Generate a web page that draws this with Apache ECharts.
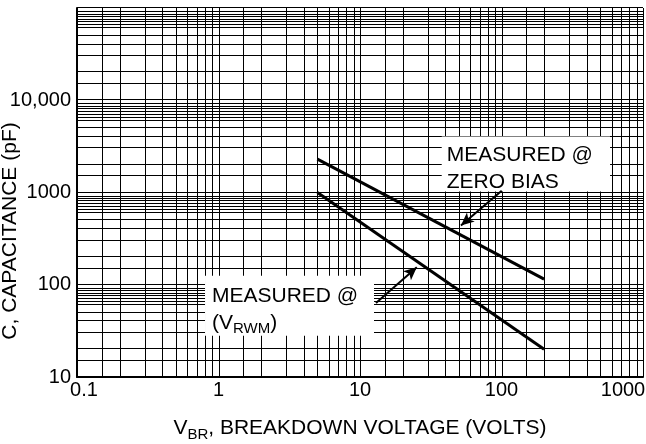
<!DOCTYPE html>
<html>
<head>
<meta charset="utf-8">
<script src="https://cdn.jsdelivr.net/npm/echarts@6/dist/echarts.min.js"></script>
<style>
    html, body {margin: 0; padding: 0; background: #fff;}
    #main {width: 646px; height: 444px;}
</style>
</head>
<body>
<div id="main"></div>
<script>
// curves (V_BR in volts, C in pF)
var zeroBiasVolts = [5, 200];
var zeroBiasCap = [2300, 115];
var rwmVolts = [5, 200];
var rwmCap = [1000, 20];

// tick labels, one per decade
var xTickLabels = ['0.1', '1', '10', '100', '1000'];
var yTickLabels = ['10', '100', '1000', '10,000', ''];

// log paper grid
var xDecades = [0.1, 1, 10, 100, 1000];
var xSteps = [1.5, 2, 3, 4, 5, 6, 7, 8, 9];
var yDecades = [10, 100, 1000, 10000, 100000];
var ySteps = [1.5, 2, 3, 4, 5, 6, 6.5, 7, 7.5, 8, 8.5, 9];

var font = '"Liberation Sans", Arial, Helvetica, sans-serif';

function pairs(xs, ys) {
    return xs.map(function (x, i) { return [x, ys[i]]; });
}

// one value per grid line, decades plus the printed subdivisions
function paperLines(decades, steps) {
    var out = [];
    decades.forEach(function (d, i) {
        out.push(d);
        if (i < decades.length - 1) {
            steps.forEach(function (s) { out.push(d * s); });
        }
    });
    return out;
}
var xGrid = paperLines(xDecades, xSteps);
var yGrid = paperLines(yDecades, ySteps);

var myChart = echarts.init(document.getElementById('main'));

var textRich = {
    t: {fontSize: 21, lineHeight: 27, color: '#000', fontFamily: font},
    s: {fontSize: 15, lineHeight: 17, verticalAlign: 'bottom', color: '#000', fontFamily: font}
};

// crisp 1px rules at the scale position of each value
function gridItem(vertical) {
    return function (params, api) {
        var cs = params.coordSys;
        var p = api.coord([api.value(0), api.value(1)]);
        var shape;
        if (vertical) {
            var x = Math.round(p[0]) + 0.5;
            shape = {x1: x, y1: cs.y, x2: x, y2: cs.y + cs.height};
        } else {
            var y = Math.round(p[1]) - 0.5;
            shape = {x1: cs.x, y1: y, x2: cs.x + cs.width, y2: y};
        }
        return {type: 'line', silent: true, shape: shape, style: {stroke: '#000', lineWidth: 1}};
    };
}

var option = {
    animation: false,
    backgroundColor: '#fff',
    grid: {left: 77, right: 3, top: 8, bottom: 67, containLabel: false, outerBoundsMode: 'none'},
    graphic: [{
        type: 'text',
        x: 10,
        y: 231,
        rotation: Math.PI / 2,
        silent: true,
        style: {
            text: 'C, CAPACITANCE (pF)',
            font: '21px ' + font,
            fill: '#000',
            align: 'center',
            verticalAlign: 'middle'
        }
    }],
    xAxis: {
        type: 'log',
        logBase: 10,
        min: 0.1,
        max: 1000,
        name: '{t|V}{s|BR}{t|, BREAKDOWN VOLTAGE (VOLTS)}',
        nameLocation: 'middle',
        nameGap: 38,
        nameTextStyle: {rich: textRich},
        axisLine: {show: true, lineStyle: {color: '#000', width: 2}},
        axisTick: {show: false},
        splitLine: {show: false},
        axisLabel: {
            margin: 3,
            fontSize: 20,
            color: '#000',
            fontFamily: font,
            formatter: function (v) {
                var i = Math.round(Math.log(v) / Math.LN10) + 1;
                if (i === 0) return '{first|' + xTickLabels[i] + '}';
                if (i === xTickLabels.length - 1) return '{last|' + xTickLabels[i] + '}';
                return xTickLabels[i];
            },
            rich: {
                first: {fontSize: 20, fontFamily: font, color: '#000', padding: [0, 0, 0, 14]},
                last: {fontSize: 20, fontFamily: font, color: '#000', padding: [0, 40, 0, 0]}
            }
        }
    },
    yAxis: {
        type: 'log',
        logBase: 10,
        min: 10,
        max: 100000,
        axisLine: {show: true, lineStyle: {color: '#000', width: 2}},
        axisTick: {show: false},
        splitLine: {show: false},
        axisLabel: {
            margin: 6,
            fontSize: 20,
            color: '#000',
            fontFamily: font,
            formatter: function (v) {
                return yTickLabels[Math.round(Math.log(v) / Math.LN10) - 1];
            }
        }
    },
    series: [
        {
            name: 'xgrid',
            type: 'custom',
            z: 1,
            silent: true,
            renderItem: gridItem(true),
            data: xGrid.map(function (v) { return [v, 10]; })
        },
        {
            name: 'ygrid',
            type: 'custom',
            z: 1,
            silent: true,
            renderItem: gridItem(false),
            data: yGrid.map(function (v) { return [0.1, v]; })
        },
        {
            name: 'MEASURED @ ZERO BIAS',
            type: 'line',
            z: 4,
            data: pairs(zeroBiasVolts, zeroBiasCap),
            showSymbol: false,
            symbol: 'none',
            lineStyle: {color: '#000', width: 3},
            markArea: {
                z: 6,
                silent: true,
                itemStyle: {color: '#fff'},
                label: {show: true, position: 'insideTopLeft', distance: 5, rich: textRich},
                data: [
                    [{coord: [37.8, 4055], label: {formatter: '{t|MEASURED @}\n{t|ZERO BIAS}'}}, {coord: [585, 1028]}],
                    [{coord: [0.803, 125], label: {formatter: '{t|MEASURED @}\n{t|(V}{s|RWM}{t|)}', distance: 7}}, {coord: [12.56, 28]}]
                ]
            }
        },
        {
            name: 'MEASURED @ (VRWM)',
            type: 'line',
            z: 4,
            data: pairs(rwmVolts, rwmCap),
            showSymbol: false,
            symbol: 'none',
            lineStyle: {color: '#000', width: 3},
            markLine: {
                z: 8,
                silent: true,
                animation: false,
                symbol: ['none', 'arrow'],
                symbolSize: [9, 13],
                label: {show: false},
                lineStyle: {color: '#000', width: 2, type: 'solid'},
                emphasis: {disabled: true},
                data: [
                    [{coord: [100.3, 1046]}, {coord: [51.7, 439]}],
                    [{coord: [12.97, 63.4]}, {coord: [25.2, 154.6]}]
                ]
            }
        }
    ]
};

myChart.setOption(option);
</script>
</body>
</html>
